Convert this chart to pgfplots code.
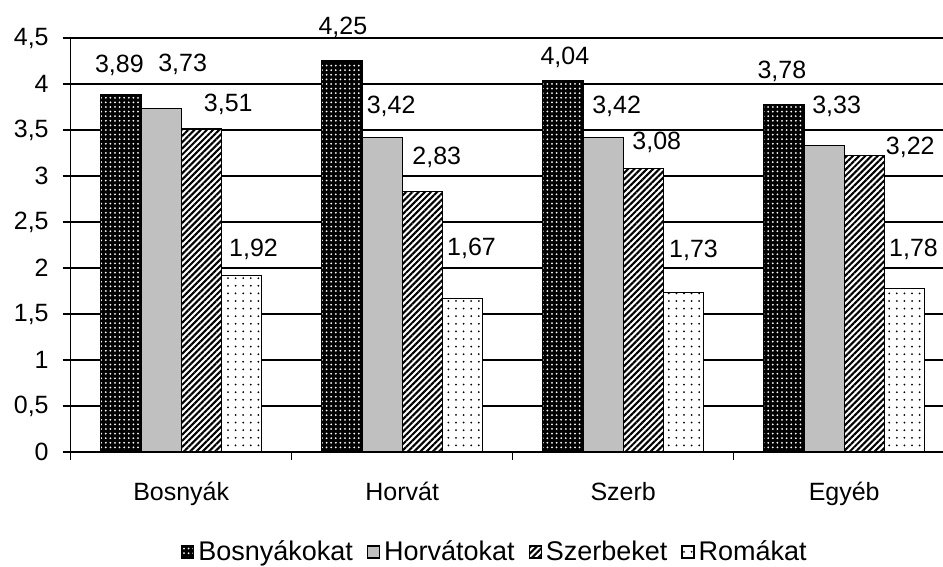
\documentclass[border=0pt]{standalone}
\usepackage{fontspec}
\setmainfont{Liberation Sans}
\usepackage{pgfplots}
\pgfplotsset{compat=1.18}
\usepackage{pgfplotstable}
\usetikzlibrary{patterns.meta}

\pgfplotstableread{
x y dx dy
0 3.89 -0.75 14.5
1 4.25 0.5 16.75
2 4.04 1 11.5
3 3.78 -1 16.5
}\bos
\pgfplotstableread{
x y dx dy
0 3.73 10.75 22
1 3.42 4.5 15.5
2 3.42 6.75 15.5
3 3.33 6.25 19.75
}\hor
\pgfplotstableread{
x y dx dy
0 3.51 13.5 12.25
1 2.83 7.25 17
2 3.08 6.75 13
3 3.22 23 4
}\szerb
\pgfplotstableread{
x y dx dy
0 1.92 6 12.75
1 1.67 4.5 25
2 1.73 5 21
3 1.78 4.5 19.5
}\rom

\definecolor{bargrey}{RGB}{192,192,192}
\newcommand{\chartfont}{\fontsize{12.5}{14}\selectfont}
\newcommand{\legfont}{\fontsize{13.5}{15}\selectfont}

\tikzset{
  sBos/.style={draw=black, line width=0.6pt, fill=black,
    postaction={pattern={Dots[distance=2.3pt, radius=0.5pt]}, pattern color=white}},
  sHor/.style={draw=black, line width=0.6pt, fill=bargrey},
  sSzerb/.style={draw=black, line width=0.6pt, fill=white,
    postaction={pattern={Lines[angle=45, distance=2.2pt, line width=1.05pt]}, pattern color=black}},
  sRom/.style={draw=black, line width=0.6pt, fill=white,
    postaction={pattern={Dots[distance=3.8pt, radius=0.5pt]}, pattern color=black}},
}

\begin{document}
\begin{tikzpicture}
\path[use as bounding box] (-35.35pt,-57.5pt) rectangle (436.15pt,226pt);
\begin{axis}[
  scale only axis,
  width=442pt, height=207pt,
  xmin=-0.5, xmax=3.5,
  ymin=0, ymax=4.5,
  ybar, bar width=0.182,
  axis x line*=bottom, axis y line*=left,
  axis line style={black, line width=0.6pt},
  ytick={0,0.5,...,4.5},
  ymajorgrids,
  grid style={black, line width=0.6pt},
  tick align=outside,
  major tick length=4pt,
  tick style={black, line width=0.6pt},
  xtick={-0.5,0.5,1.5,2.5,3.5},
  xticklabels={},
  extra x ticks={0,1,2,3},
  extra x tick labels={Bosnyák,Horvát,Szerb,Egyéb},
  extra x tick style={major tick length=0pt, xticklabel style={yshift=-11.5pt}},
  tick label style={font=\chartfont},
  yticklabel style={xshift=-3.5pt},
  /pgf/number format/use comma,
  /pgf/number format/assume math mode=true,
  legend image code/.code={\draw[#1] (0pt,-3pt) rectangle (6pt,3pt);},
  legend style={at={(0.481,-0.2415)}, anchor=center, draw=none, fill=none,
    legend columns=-1, font=\legfont,
    /tikz/every odd column/.append style={column sep=0pt},
    /tikz/every even column/.append style={column sep=5pt}},
  visualization depends on={\thisrow{dx}\as\labdx},
  visualization depends on={\thisrow{dy}\as\labdy},
  nodes near coords={\pgfmathprintnumber[fixed,fixed zerofill,precision=2,use comma,assume math mode=true]{\pgfplotspointmeta}},
  every node near coord/.append style={anchor=center, font=\chartfont, inner sep=0pt,
    xshift=\labdx pt, yshift=\labdy pt, black},
]
\addplot[sBos, bar shift=-0.273] table[x=x, y=y] {\bos};
\addplot[sHor, bar shift=-0.091] table[x=x, y=y] {\hor};
\addplot[sSzerb, bar shift=0.091] table[x=x, y=y] {\szerb};
\addplot[sRom, bar shift=0.273] table[x=x, y=y] {\rom};
\legend{Bosnyákokat, Horvátokat, Szerbeket, Romákat}
\end{axis}
\end{tikzpicture}
\end{document}
